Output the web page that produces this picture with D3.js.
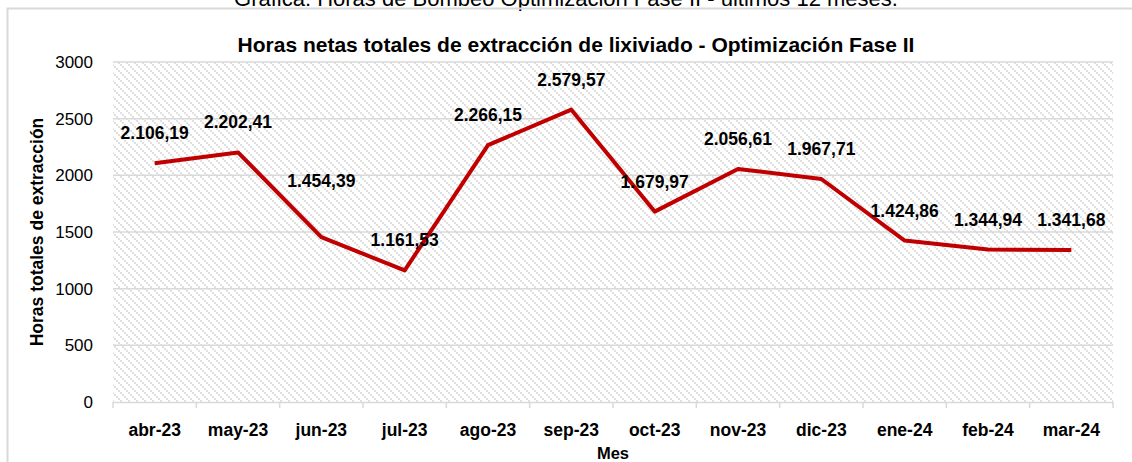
<!DOCTYPE html>
<html lang="es">
<head>
<meta charset="utf-8">
<title>Horas netas totales de extracción</title>
<script src="https://d3js.org/d3.v7.min.js"></script>
<style>
body { margin: 0; background: #fff; }
svg text { font-family: "Liberation Sans", Arial, sans-serif; fill: #000; }
.axis path, .axis line { stroke: #d9d9d9; }
</style>
</head>
<body>
<div id="chart"></div>
<script>
// data
var months = ["abr-23", "may-23", "jun-23", "jul-23", "ago-23", "sep-23", "oct-23", "nov-23", "dic-23", "ene-24", "feb-24", "mar-24"];
var hours = [2106.19, 2202.41, 1454.39, 1161.53, 2266.15, 2579.57, 1679.97, 2056.61, 1967.71, 1424.86, 1344.94, 1341.68];
var yTicks = [0, 500, 1000, 1500, 2000, 2500, 3000];

var W = 1132, H = 462;
var plotL = 113, plotR = 1113, plotT = 62, plotB = 402;

var svg = d3.select("#chart").append("svg")
  .attr("width", W)
  .attr("height", H);

// hatch pattern for the plot area
var defs = svg.append("defs");
var pat = defs.append("pattern")
  .attr("id", "hatch")
  .attr("patternUnits", "userSpaceOnUse")
  .attr("width", 8).attr("height", 8);
pat.append("rect").attr("width", 8).attr("height", 8).attr("fill", "#fff");
[0, 2, 4, 6].forEach(function(p) {
  pat.append("rect").attr("x", p).attr("y", p).attr("width", 2).attr("height", 2).attr("fill", "#e0e0e0");
});

// caption above the chart (cut off at the top)
svg.append("text")
  .attr("x", 566).attr("y", 6)
  .attr("text-anchor", "middle")
  .attr("font-size", "22px")
  .text("Gráfica: Horas de Bombeo Optimización Fase II - últimos 12 meses.");

// chart frame
svg.append("rect")
  .attr("x", 7.5).attr("y", 8.5)
  .attr("width", 1140).attr("height", 470)
  .attr("fill", "none")
  .attr("stroke", "#d9d9d9")
  .attr("stroke-width", 2);

var x = d3.scaleBand().domain(months).range([plotL, plotR]);
var y = d3.scaleLinear().domain([0, 3000]).range([plotB, plotT]);

svg.append("rect")
  .attr("x", plotL).attr("y", plotT)
  .attr("width", plotR - plotL).attr("height", plotB - plotT)
  .attr("fill", "url(#hatch)");

// gridlines
svg.append("g")
  .selectAll("line")
  .data(yTicks.filter(function(d) { return d > 0; }))
  .enter().append("line")
  .attr("x1", plotL).attr("x2", plotR)
  .attr("y1", function(d) { return y(d); })
  .attr("y2", function(d) { return y(d); })
  .attr("stroke", "#d9d9d9")
  .attr("stroke-width", 1.5);

// y axis labels
var yAxis = svg.append("g")
  .attr("class", "axis")
  .attr("transform", "translate(" + plotL + ",0)")
  .call(d3.axisLeft(y).tickValues(yTicks).tickSize(0).tickPadding(20).tickFormat(d3.format("d")));
yAxis.select(".domain").remove();
yAxis.selectAll("text").attr("font-size", "17px");

// x axis with tick marks between the categories
var xAxis = svg.append("g")
  .attr("class", "axis")
  .attr("transform", "translate(0," + plotB + ")")
  .call(d3.axisBottom(x).tickSize(0).tickPadding(22).tickSizeOuter(0));
xAxis.select(".domain").attr("stroke-width", 1.5);
xAxis.selectAll("text").attr("font-size", "17.5px").attr("font-weight", "bold");
xAxis.selectAll(".sep")
  .data(d3.range(months.length + 1))
  .enter().append("line")
  .attr("class", "sep")
  .attr("x1", function(i) { return plotL + i * x.step(); })
  .attr("x2", function(i) { return plotL + i * x.step(); })
  .attr("y1", 0).attr("y2", 6)
  .attr("stroke", "#d9d9d9")
  .attr("stroke-width", 1.5);

// line
var line = d3.line()
  .x(function(d, i) { return x(months[i]) + x.bandwidth() / 2; })
  .y(function(d) { return y(d); });

svg.append("path")
  .datum(hours)
  .attr("d", line)
  .attr("fill", "none")
  .attr("stroke", "#c00000")
  .attr("stroke-width", 4)
  .attr("stroke-linejoin", "round");

// value labels, spanish number format
var es = d3.formatLocale({ decimal: ",", thousands: ".", grouping: [3], currency: ["", " €"] });
var fmt = es.format(",.2f");
var lift = function(i) { return months[i] === "jun-23" ? 50 : 24; };

svg.append("g")
  .selectAll("text")
  .data(hours)
  .enter().append("text")
  .attr("x", function(d, i) { return x(months[i]) + x.bandwidth() / 2; })
  .attr("y", function(d, i) { return y(d) - lift(i); })
  .attr("text-anchor", "middle")
  .attr("font-size", "17.5px")
  .attr("font-weight", "bold")
  .text(function(d) { return fmt(d); });

// titles
svg.append("text")
  .attr("x", 576).attr("y", 52)
  .attr("text-anchor", "middle")
  .attr("font-size", "21px")
  .attr("font-weight", "bold")
  .text("Horas netas totales de extracción de lixiviado - Optimización Fase II");

svg.append("text")
  .attr("transform", "translate(43," + ((plotT + plotB) / 2) + ") rotate(-90)")
  .attr("text-anchor", "middle")
  .attr("font-size", "17.5px")
  .attr("font-weight", "bold")
  .text("Horas totales de extracción");

svg.append("text")
  .attr("x", (plotL + plotR) / 2).attr("y", 459)
  .attr("text-anchor", "middle")
  .attr("font-size", "16.5px")
  .attr("font-weight", "bold")
  .text("Mes");
</script>
</body>
</html>
